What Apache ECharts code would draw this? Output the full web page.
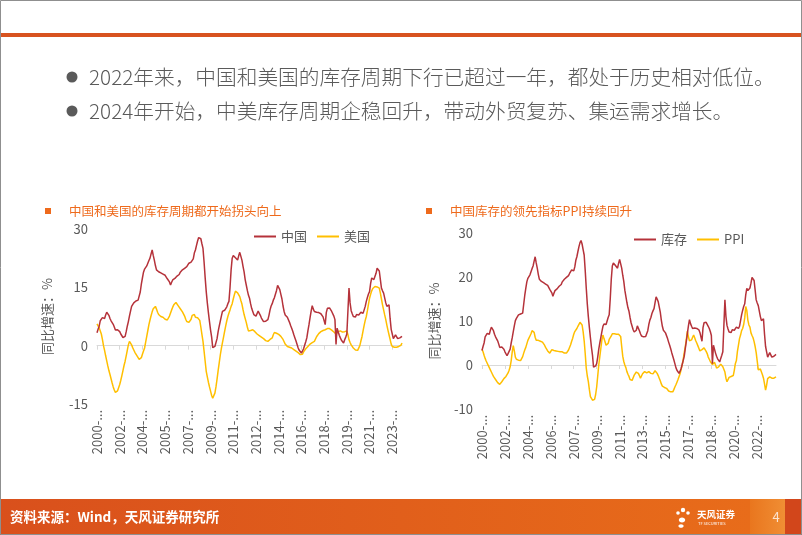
<!DOCTYPE html>
<html><head><meta charset="utf-8">
<script src="https://cdn.jsdelivr.net/npm/echarts@6/dist/echarts.min.js"></script>
<style>html,body{margin:0;padding:0;background:#fff}#c{width:802px;height:535px}</style>
</head><body><div id="c"></div>
<script>
// ---- data (monthly, starting 2000-08) ----
const startYear = 2000, startMonth = 8;
const china = [
3.3,4.2,5.0,6.4,6.0,7.2,7.4,7.0,7.9,8.6,
8.3,7.8,7.0,6.4,6.6,5.5,4.8,4.0,3.7,4.1,
4.4,3.6,3.0,2.6,2.1,2.6,2.4,3.6,5.0,6.2,
7.6,8.9,10.1,10.6,11.0,11.4,11.5,11.6,11.7,11.8,
13.8,15.8,17.4,18.9,19.7,19.9,20.5,21.2,21.9,22.5,
23.6,24.6,23.2,22.0,20.6,19.5,19.2,19.0,19.1,18.7,
18.6,18.4,18.0,18.1,17.8,17.2,16.8,16.4,15.6,16.3,
16.9,16.8,17.3,17.6,17.9,18.2,18.3,18.9,19.2,19.5,
19.6,19.9,20.1,20.3,20.8,21.2,21.6,21.5,21.4,22.3,
23.8,24.6,25.8,26.9,27.8,28.3,27.5,26.2,25.0,21.5,
17.5,13.9,11.0,8.5,6.2,4.0,2.2,-0.5,-0.8,-0.2,
0.3,1.8,3.6,5.0,6.3,7.6,8.8,9.3,9.1,9.2,
10.0,10.8,11.4,15.0,19.5,22.5,23.2,23.0,22.6,22.2,
22.0,23.1,24.0,23.8,22.0,20.4,19.0,17.0,15.6,14.2,
13.0,12.2,10.8,9.6,8.8,8.0,7.5,7.6,7.9,8.9,
8.6,7.8,7.1,6.6,6.2,6.4,6.3,6.5,6.7,7.8,
9.2,10.2,10.8,11.7,12.3,12.8,14.2,15.5,15.0,14.4,
13.2,12.0,10.2,8.8,7.9,7.5,7.3,7.0,6.0,5.2,
4.5,3.7,2.8,2.0,1.2,0.3,-0.6,-1.2,-1.6,-1.9,
-1.4,-0.8,0.1,1.0,2.0,3.8,5.4,7.2,8.9,10.3,
9.4,8.8,8.3,8.6,8.4,8.5,8.3,8.2,8.0,7.4,
7.0,5.4,8.5,9.6,9.5,9.7,9.3,8.8,8.3,7.6,
6.7,0.3,4.5,3.6,2.7,2.0,1.4,1.0,0.7,1.5,
2.2,3.0,3.3,14.8,11.0,9.0,8.2,7.5,7.9,7.4,
8.0,8.3,7.9,8.0,8.6,8.9,8.3,8.8,10.1,11.4,
12.4,13.3,13.9,16.0,17.4,16.9,17.0,17.5,18.6,19.9,
19.8,19.2,17.0,14.8,14.1,13.5,13.1,11.0,10.1,10.2,
10.5,7.0,4.2,3.0,1.8,2.2,2.8,2.3,1.8,1.6,
2.0,2.2,2.4
];
const usa = [
5.6,5.2,4.6,4.1,3.0,1.6,0.0,-1.2,-2.6,-3.9,
-5.2,-6.4,-7.4,-8.5,-9.6,-10.6,-11.4,-12.0,-12.1,-11.6,
-10.8,-10.0,-8.9,-7.7,-6.4,-5.1,-4.0,-2.6,-1.2,0.2,
1.1,1.0,0.2,-0.5,-1.1,-1.7,-2.2,-2.6,-3.1,-3.5,
-3.6,-3.1,-2.2,-1.4,-0.6,0.9,2.4,3.9,5.4,6.6,
7.7,8.7,9.5,10.0,10.1,9.4,8.6,8.0,7.8,7.5,
7.2,7.3,7.1,6.8,7.0,6.6,6.7,7.6,8.4,9.2,
9.9,10.5,10.9,11.1,10.8,10.3,9.8,9.5,9.0,8.7,
8.4,7.6,6.8,6.2,6.1,6.0,6.4,6.8,7.8,8.3,
8.0,7.3,7.0,7.2,6.9,6.5,4.8,2.9,1.1,-1.4,
-4.0,-6.6,-8.0,-9.4,-10.6,-11.7,-12.8,-13.5,-13.4,-12.2,
-10.6,-8.6,-6.4,-4.4,-2.4,-0.7,0.8,2.2,3.7,5.1,
6.4,7.5,8.4,9.2,10.1,10.8,12.0,13.1,14.0,13.8,
13.6,13.5,12.6,11.6,10.7,9.3,8.0,7.0,6.0,4.8,
3.8,3.6,3.9,4.3,4.1,4.0,3.6,3.2,3.0,2.9,
2.6,2.4,2.2,2.1,1.8,1.5,1.3,1.1,1.1,1.3,
1.6,1.8,2.0,2.8,3.4,3.5,3.2,3.0,2.9,2.8,
2.4,2.0,1.6,1.0,0.4,0.0,-0.2,-0.3,-0.4,-0.5,
-0.6,-0.8,-1.0,-1.2,-1.4,-1.6,-1.8,-1.9,-2.3,-2.7,
-2.2,-1.6,-1.2,-0.8,-0.5,-0.2,0.1,0.4,0.6,0.8,
0.9,1.1,1.6,2.3,2.8,3.1,3.4,3.6,3.8,3.9,
4.0,4.1,4.2,4.4,4.5,4.4,4.2,4.0,3.8,3.5,
3.2,3.0,3.3,3.6,3.8,3.8,3.6,3.5,3.5,3.6,
3.7,3.8,2.8,1.5,0.8,0.2,-0.3,-0.6,-0.9,-1.1,
-1.3,-1.2,-1.0,0.0,1.2,2.3,3.8,5.2,6.5,7.5,
9.0,10.6,12.2,13.2,14.1,14.7,15.0,15.2,15.2,15.1,
15.0,14.8,13.5,12.0,10.5,9.2,7.9,6.7,5.3,4.0,
2.8,1.6,0.4,-0.2,-0.3,-0.4,-0.2,-0.4,-0.2,-0.2,
-0.3,0.1,0.7
];
const ppi = [
3.6,3.0,2.2,1.5,0.9,0.4,0.0,-0.6,-1.1,-1.6,
-2.1,-2.6,-2.9,-3.3,-3.7,-4.0,-4.3,-4.4,-4.2,-3.8,
-3.4,-3.1,-2.8,-2.6,-2.3,-1.8,-1.2,-0.4,1.0,3.0,
4.4,3.2,1.8,1.3,1.2,1.1,1.0,1.0,1.1,1.9,
2.7,3.4,4.0,4.8,5.6,6.1,6.6,7.1,7.8,8.2,
7.4,6.3,5.6,5.4,5.6,5.7,5.4,5.1,5.2,4.8,
4.5,4.0,3.6,3.2,2.8,2.7,2.9,3.5,3.4,3.3,
3.5,3.2,3.0,3.1,2.8,3.0,3.2,3.0,2.8,2.7,
2.6,2.7,3.1,3.4,3.8,4.6,5.4,6.1,7.0,7.6,
8.0,8.3,8.8,9.2,9.7,10.0,9.1,7.6,5.5,2.6,
-0.7,-2.5,-3.8,-5.6,-7.2,-7.6,-8.0,-8.3,-7.8,-6.7,
-5.0,-2.5,0.0,1.9,3.8,5.7,6.8,6.0,5.3,4.5,
4.2,4.9,5.8,6.1,6.6,7.1,7.2,7.1,7.3,7.0,
6.8,7.0,7.2,6.5,4.2,2.0,0.8,0.0,-0.6,-1.5,
-2.1,-2.6,-3.3,-3.6,-3.5,-2.9,-2.3,-1.9,-1.6,-1.8,
-1.9,-2.4,-3.0,-2.6,-2.0,-1.7,-1.5,-1.4,-1.8,-1.9,
-1.5,-1.5,-1.9,-2.3,-2.0,-1.6,-1.3,-1.5,-1.9,-2.4,
-3.0,-3.6,-4.3,-4.8,-4.9,-5.1,-5.3,-5.3,-5.6,-5.9,
-6.2,-6.1,-6.0,-6.1,-5.6,-5.0,-4.5,-3.9,-3.3,-2.9,
-2.0,-1.0,0.0,1.3,2.8,4.2,5.8,7.7,6.4,5.5,
5.4,5.7,6.3,6.8,6.2,5.5,5.0,4.4,3.8,3.2,
3.1,3.5,3.8,3.9,3.6,3.1,2.6,1.8,1.3,0.8,
0.4,0.1,0.2,0.6,0.0,-0.7,-0.8,-0.4,0.0,0.2,
-0.1,-0.4,-0.8,-1.6,-3.0,-3.8,-3.5,-2.8,-2.6,-2.6,
-2.8,-2.4,-1.2,0.3,1.0,3.1,4.5,6.0,6.8,7.8,
8.3,9.2,10.7,13.3,12.4,10.2,9.1,8.6,7.3,6.7,
6.2,5.3,4.2,2.8,0.9,-1.1,-1.2,-0.9,-1.3,-2.2,
-3.0,-4.3,-5.7,-4.6,-3.1,-2.9,-2.7,-2.8,-3.0,-2.7,
-3.0,-2.6,-2.7
];
const leftLegend = ['中国', '美国'];
const rightLegend = ['库存', 'PPI'];
const leftTitle = '中国和美国的库存周期都开始拐头向上';
const rightTitle = '中国库存的领先指标PPI持续回升';
const bullet1 = '2022年来，中国和美国的库存周期下行已超过一年，都处于历史相对低位。';
const bullet2 = '2024年开始，中美库存周期企稳回升，带动外贸复苏、集运需求增长。';
const sourceText = '资料来源：Wind，天风证券研究所';
const yName = '同比增速：%';

// month category labels
const months = china.map((_, i) => {
  const t = startYear * 12 + startMonth - 1 + i;
  return Math.floor(t / 12) + '-' + String(t % 12 + 1).padStart(2, '0');
});

const FONT = "'Noto Sans CJK SC','Noto Sans',sans-serif";
const GRAY = '#595959';
const RED = '#B5323A';
const YEL = '#FFBF00';
const ORANGE = '#EE6A1C';

function xAxes(grid, interval) {
  return [
    { gridIndex: grid, type: 'category', data: months, boundaryGap: false, position: 'bottom',
      axisLine: { onZero: true, lineStyle: { color: '#D9D9D9', width: 1 } },
      axisTick: { interval: interval, length: 4, lineStyle: { color: '#D9D9D9' } },
      axisLabel: { show: false }, splitLine: { show: false } },
    { gridIndex: grid, type: 'category', data: months, boundaryGap: false, position: 'bottom',
      axisLine: { show: false, onZero: false }, axisTick: { show: false }, splitLine: { show: false },
      axisLabel: { interval: interval, rotate: 90, margin: 6, fontSize: 13, color: GRAY, fontFamily: FONT,
        formatter: v => v.slice(0, 4) + '-...' } }
  ];
}
function yAxis(grid, min, max, interval, gap) {
  return { gridIndex: grid, type: 'value', min: min, max: max, interval: interval,
    axisLine: { show: false }, axisTick: { show: false }, splitLine: { show: false },
    axisLabel: { fontSize: 13, color: GRAY, margin: 9, fontFamily: FONT },
    name: yName, nameLocation: 'middle', nameRotate: 90, nameGap: gap,
    nameTextStyle: { fontSize: 13, color: GRAY, fontFamily: FONT } };
}
function legend(left, top, data) {
  return { left: left, top: top, padding: 0, itemWidth: 22, itemHeight: 2, itemGap: 10, icon: 'rect',
    data: data, textStyle: { fontSize: 13, color: GRAY, fontFamily: FONT } };
}
function line(name, xi, yi, data, color) {
  return { name: name, type: 'line', xAxisIndex: xi, yAxisIndex: yi, data: data, showSymbol: false,
    symbol: 'none', lineStyle: { width: 1.5, color: color }, itemStyle: { color: color }, z: name === '中国' || name === '库存' ? 3 : 2 };
}

const chart = echarts.init(document.getElementById('c'), null, { renderer: 'canvas' });
chart.setOption({
  animation: false,
  backgroundColor: '#fff',
  textStyle: { fontFamily: FONT },
  grid: [
    { left: 97, top: 229, width: 305, height: 175 },
    { left: 482, top: 233, width: 294, height: 176 }
  ],
  xAxis: [...xAxes(0, 20), ...xAxes(1, 21)],
  yAxis: [yAxis(0, -15, 30, 15, 43), yAxis(1, -10, 30, 10, 41)],
  legend: [legend(254, 230, leftLegend), legend(634, 233, rightLegend)],
  series: [
    line(leftLegend[0], 0, 0, china, RED),
    line(leftLegend[1], 0, 0, usa, YEL),
    line(rightLegend[0], 2, 1, china, RED),
    line(rightLegend[1], 2, 1, ppi, YEL)
  ],
  graphic: [
    { type: 'rect', shape: { x: 0.5, y: 0.5, width: 801, height: 534 }, style: { fill: 'none', stroke: '#8F8F8F', lineWidth: 1 }, z: 100 },
    { type: 'rect', shape: { x: 0, y: 33, width: 802, height: 4 }, style: { fill: '#D8531F' } },
    { type: 'circle', shape: { cx: 72, cy: 77, r: 5.5 }, style: { fill: '#5A5A5A' } },
    { type: 'text', x: 89, y: 77, style: { text: bullet1, font: "300 20.7px " + FONT, fill: '#5A5A5A', verticalAlign: 'middle' } },
    { type: 'circle', shape: { cx: 72, cy: 111, r: 5.5 }, style: { fill: '#5A5A5A' } },
    { type: 'text', x: 89, y: 111, style: { text: bullet2, font: "300 20.7px " + FONT, fill: '#5A5A5A', verticalAlign: 'middle' } },
    { type: 'rect', shape: { x: 45, y: 208, width: 6, height: 6 }, style: { fill: ORANGE } },
    { type: 'text', x: 69, y: 211, style: { text: leftTitle, font: "12.5px " + FONT, fill: ORANGE, verticalAlign: 'middle' } },
    { type: 'rect', shape: { x: 426, y: 208, width: 6, height: 6 }, style: { fill: ORANGE } },
    { type: 'text', x: 450, y: 211, style: { text: rightTitle, font: "12.5px " + FONT, fill: ORANGE, verticalAlign: 'middle' } },
    { type: 'rect', shape: { x: 0, y: 499, width: 802, height: 36 },
      style: { fill: new echarts.graphic.LinearGradient(0, 0, 1, 0, [{ offset: 0, color: '#D9501C' }, { offset: 1, color: '#E96E1A' }]) } },
    { type: 'rect', shape: { x: 750, y: 499, width: 35, height: 36 },
      style: { fill: new echarts.graphic.LinearGradient(0, 0, 1, 0, [{ offset: 0, color: '#E9761E' }, { offset: 1, color: '#F08E34' }]) } },
    { type: 'rect', shape: { x: 785, y: 499, width: 17, height: 36 }, style: { fill: '#D2461B' } },
    { type: 'text', x: 10, y: 517, style: { text: sourceText, font: "bold 13.5px " + FONT, fill: '#fff', verticalAlign: 'middle' } },
    { type: 'text', x: 776, y: 517, style: { text: '4', font: "13px " + FONT, fill: '#FCE3CF', align: 'center', verticalAlign: 'middle' } },
    { type: 'circle', shape: { cx: 683, cy: 510, r: 2.2 }, style: { fill: '#fff' } },
    { type: 'circle', shape: { cx: 678, cy: 513, r: 1.8 }, style: { fill: '#fff' } },
    { type: 'circle', shape: { cx: 688, cy: 513, r: 1.8 }, style: { fill: '#fff' } },
    { type: 'ellipse', shape: { cx: 682, cy: 520, rx: 3.2, ry: 2.4 }, style: { fill: '#fff' } },
    { type: 'ellipse', shape: { cx: 681, cy: 526, rx: 2.6, ry: 1.8 }, style: { fill: '#fff' } },
    { type: 'text', x: 697, y: 514, style: { text: '天风证券', font: "bold 9.5px " + FONT, fill: '#fff', verticalAlign: 'middle' } },
    { type: 'text', x: 698, y: 523, style: { text: 'TF SECURITIES', font: "4px " + FONT, fill: '#fff', verticalAlign: 'middle' } }
  ]
});
</script></body></html>
